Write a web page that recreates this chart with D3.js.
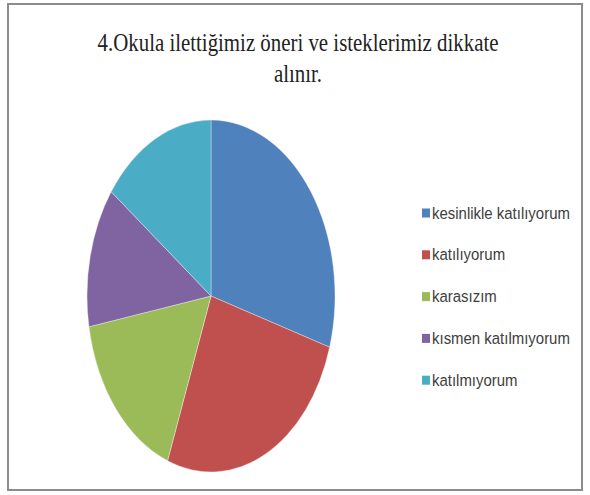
<!DOCTYPE html>
<html><head><meta charset="utf-8">
<script src="https://cdn.jsdelivr.net/npm/d3@7"></script>
<style>body{margin:0;background:#fff}svg{display:block}</style>
</head><body>
<script>
const categories = ["kesinlikle katılıyorum","katılıyorum","karasızım","kısmen katılmıyorum","katılmıyorum"];
const values = [29.7, 26.0, 16.5, 12.9, 14.9];
const colors = ["#4F81BD","#C0504D","#9BBB59","#8064A2","#4BACC6"];
const titleLines = ["4.Okula ilettiğimiz öneri ve isteklerimiz dikkate","alınır."];

const W=590,H=495;
const svg=d3.select("body").append("svg").attr("width",W).attr("height",H);
svg.append("rect").attr("x",8).attr("y",4).attr("width",574).attr("height",486)
  .attr("fill","#fff").attr("stroke","#8c8c8c").attr("stroke-width",2);

svg.append("g").attr("transform","translate(298,0) scale(0.835,1)")
  .selectAll("text").data(titleLines).join("text")
  .attr("x",0).attr("y",(d,i)=>51+i*31).attr("text-anchor","middle")
  .attr("font-family","Liberation Serif, serif").attr("font-size",25).attr("fill","#222")
  .text(d=>d);

const cx=211, cy=296, rx=124, ry=176;
const pie=d3.pie().sort(null).value(d=>d)(values);
const arc=d3.arc().innerRadius(0).outerRadius(ry);
svg.append("g").attr("transform",`translate(${cx},${cy}) scale(${rx/ry},1)`)
  .selectAll("path").data(pie).join("path")
  .attr("d",arc).attr("fill",(d,i)=>colors[i])
  .attr("stroke","rgba(255,255,255,0.35)").attr("stroke-width",1).attr("vector-effect","non-scaling-stroke");

const leg=svg.append("g").selectAll("g").data(categories).join("g")
  .attr("transform",(d,i)=>`translate(422,${213+i*41.8})`);
leg.append("rect").attr("x",0).attr("y",-4.5).attr("width",8).attr("height",9).attr("fill",(d,i)=>colors[i]);
leg.append("text").attr("transform","translate(10,5.5) scale(0.88,1)")
  .attr("font-family","Liberation Sans, Arial, sans-serif").attr("font-size",17).attr("fill","#404040")
  .text(d=>d);
</script>
</body></html>
